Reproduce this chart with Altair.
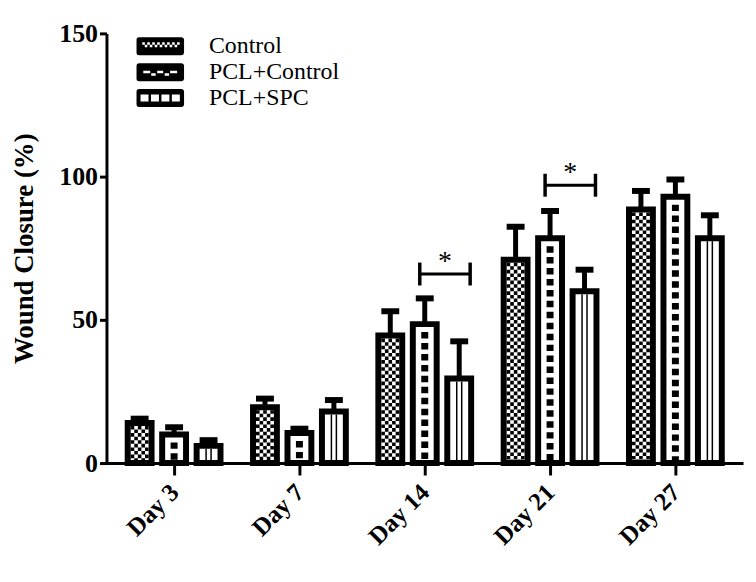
import json
import altair as alt
import pandas as pd

# ---------------- data ----------------
days = ["Day 3", "Day 7", "Day 14", "Day 21", "Day 27"]
groups = ["Control", "PCL+Control", "PCL+SPC"]

control = [14, 19.5, 44.5, 71, 88.5]
control_err = [1.5, 3, 8.5, 11.5, 6.5]
pcl_control = [10, 10.5, 48.5, 78.5, 93]
pcl_control_err = [2.5, 1.5, 9, 9.5, 6]
pcl_spc = [6, 18, 29.5, 60, 78.5]
pcl_spc_err = [2, 4, 13, 7.5, 8]

sig_days = ["Day 14", "Day 21"]
sig_level = [66, 97]
sig_label = ["*", "*"]

y_ticks = [0, 50, 100, 150]

FONT = "Liberation Serif"

rows = []
for g, vals, errs in [("Control", control, control_err),
                      ("PCL+Control", pcl_control, pcl_control_err),
                      ("PCL+SPC", pcl_spc, pcl_spc_err)]:
    for d, v, e in zip(days, vals, errs):
        rows.append({"day": d, "group": g, "value": v, "err": e})
df = pd.DataFrame(rows)

sig_df = pd.DataFrame({"day": sig_days, "level": sig_level, "label": sig_label})

DAYS_JS = json.dumps(days)
GROUPS_JS = json.dumps(groups)
STEP = 0.275
pos_expr = f"indexof({DAYS_JS}, datum.day) + 0.5 + (indexof({GROUPS_JS}, datum.group) - 1) * {STEP}"

xscale = alt.Scale(domain=[0, len(days)], nice=False, zero=False)
xaxis = alt.Axis(
    values=[i + 0.5 for i in range(len(days))],
    labelExpr=f"{DAYS_JS}[floor(datum.value)]",
    title=None, grid=False,
    labelAngle=-45, labelAlign="right", labelBaseline="middle",
    labelFont=FONT, labelFontSize=25, labelFontWeight="bold", labelColor="black",
    labelPadding=13, tickSize=12, tickWidth=3, tickColor="black",
    domainWidth=3, domainColor="black",
)
yscale = alt.Scale(domain=[0, 150], nice=False)
yaxis = alt.Axis(
    values=y_ticks, title="Wound Closure (%)", grid=False,
    labelFont=FONT, labelFontSize=26, labelFontWeight="bold", labelColor="black",
    labelPadding=2, tickSize=7, tickWidth=3, tickColor="black",
    domainWidth=3, domainColor="black",
    titleFont=FONT, titleFontSize=27, titleFontWeight="bold", titleColor="black",
    titlePadding=20,
)


def X(field):
    return alt.X(field, type="quantitative", scale=xscale, axis=xaxis)


def Y(field):
    return alt.Y(field, type="quantitative", scale=yscale, axis=yaxis)


base = alt.Chart(df).transform_calculate(pos=pos_expr, top="datum.value + datum.err")

bars = base.mark_bar(size=24, fill="white", stroke="black", strokeWidth=6,
                     orient="vertical").encode(x=X("pos"), y=Y("value"))


def pattern(group, xoff, width, dash=None, dashoff=0, ytop=3):
    kw = dict(color="black", strokeWidth=width, xOffset=xoff, yOffset=ytop,
              y2Offset=-3, strokeCap="butt")
    if dash is not None:
        kw["strokeDash"] = dash
        kw["strokeDashOffset"] = dashoff
    return (base.transform_filter(alt.datum.group == group)
            .mark_rule(**kw)
            .encode(x=X("pos"), y=Y("value"), y2=alt.datum(0)))


patterns = [
    pattern("Control", -7.2, 3.6, [3.6, 3.6], 0),
    pattern("Control", -3.6, 3.6, [3.6, 3.6], 3.6),
    pattern("Control", 0, 3.6, [3.6, 3.6], 0),
    pattern("Control", 3.6, 3.6, [3.6, 3.6], 3.6),
    pattern("Control", 7.2, 3.6, [3.6, 3.6], 0),
    pattern("PCL+Control", 0, 7, [6.5, 4.5], 0, ytop=8),
    pattern("PCL+SPC", -2.5, 1.5),
    pattern("PCL+SPC", 2.5, 1.5),
]

stems = base.mark_rule(color="black", strokeWidth=5).encode(
    x=X("pos"), y=Y("value"), y2=alt.Y2("top:Q"))
caps = base.mark_tick(color="black", size=18, thickness=6, orient="horizontal",
                      opacity=1).encode(x=X("pos"), y=Y("top"))

sig = alt.Chart(sig_df).transform_calculate(
    pl=f"indexof({DAYS_JS}, datum.day) + 0.5",
    pr=f"indexof({DAYS_JS}, datum.day) + 0.5 + {STEP}",
    mid=f"indexof({DAYS_JS}, datum.day) + 0.5 + {STEP / 2}",
    lo="datum.level - 4",
    hi="datum.level + 4",
)
hline = sig.mark_rule(color="black", strokeWidth=3, xOffset=-5, x2Offset=11).encode(
    x=X("pl"), x2=alt.X2("pr:Q"), y=Y("level"))
lend = sig.mark_rule(color="black", strokeWidth=3.5, xOffset=-5).encode(
    x=X("pl"), y=Y("lo"), y2=alt.Y2("hi:Q"))
rend = sig.mark_rule(color="black", strokeWidth=3.5, xOffset=11).encode(
    x=X("pr"), y=Y("lo"), y2=alt.Y2("hi:Q"))
stars = sig.mark_text(font=FONT, fontSize=28, color="black", dx=3, dy=-4,
                      baseline="alphabetic", align="center").encode(
    x=X("mid"), y=Y("level"), text="label:N")


# ---------------- legend icons (custom symbol paths, 1 unit = 24 px) ----------------
U = 1 / 24.0


def f(v):
    return f"{v:.4f}"


OUTER = ("M-0.875,-0.375 H0.875 Q1,-0.375 1,-0.25 V0.25 Q1,0.375 0.875,0.375 "
         "H-0.875 Q-1,0.375 -1,0.25 V-0.25 Q-1,-0.375 -0.875,-0.375 Z")


def hole(x0, y0, x1, y1):
    x0, y0, x1, y1 = x0 * U, y0 * U, x1 * U, y1 * U
    return f" M{f(x0)},{f(y0)} V{f(y1)} H{f(x1)} V{f(y0)} Z"


p_control = OUTER
for k in range(8):
    x = -18 + 5 * k
    p_control += hole(x, -4, x + 2.6, -1.5)
for k in range(7):
    x = -15.5 + 5 * k
    p_control += hole(x, -1.5, x + 2.6, 1)

p_pclc = OUTER
for a, b in [(-17, -10), (-3, 3), (10, 17)]:
    p_pclc += hole(a, -1.5, b, 1)
for a, b in [(-9, -4.5), (4.5, 9)]:
    p_pclc += hole(a, 1, b, 3.5)

p_spc = OUTER
for k in range(4):
    x = -19.75 + 10.5 * k
    p_spc += hole(x, -3.5, x + 8, 3.5)

legend_layer = base.transform_filter("false").mark_point(
    filled=True, color="black", size=2304, opacity=1, strokeWidth=0).encode(
    x=X("pos"), y=Y("value"),
    shape=alt.Shape("group:N",
                    scale=alt.Scale(domain=groups, range=[p_control, p_pclc, p_spc]),
                    legend=alt.Legend(
                        title=None, orient="none", legendX=30, legendY=3,
                        symbolSize=2304, symbolFillColor="black", symbolStrokeWidth=0,
                        symbolOpacity=1, clipHeight=20, rowPadding=2,
                        labelFont=FONT, labelFontSize=24, labelColor="black",
                        labelOffset=25, labelLimit=400, padding=0)))

chart = alt.layer(bars, *patterns, stems, caps, hline, lend, rend, stars,
                  legend_layer).properties(
    width=640, height=432,
    autosize=alt.AutoSizeParams(type="none"),
    padding={"left": 99, "top": 24, "right": 5, "bottom": 110},
    background="white",
).configure_view(stroke=None)

chart.save("out.html", embed_options={"renderer": "svg", "actions": False})
